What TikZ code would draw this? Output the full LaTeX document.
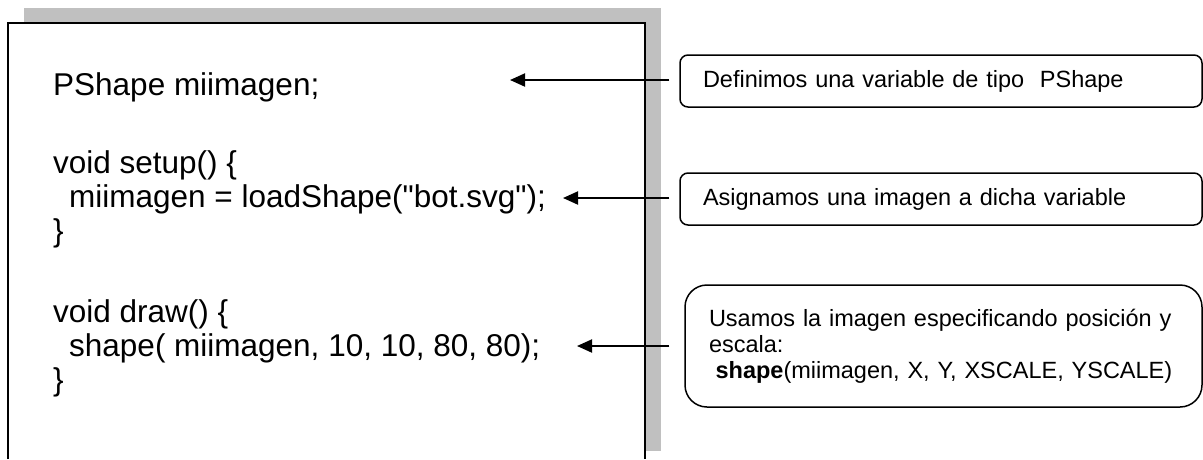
\documentclass[tikz,border=0pt]{standalone}
\usepackage{fontspec}
\setmainfont{Liberation Sans}[Ligatures=TeXOff]
\usetikzlibrary{arrows.meta,calc}
\definecolor{shadowgray}{RGB}{192,192,192}
\tikzset{
  codeline/.style={anchor=base west, inner sep=0pt, font=\fontsize{31.5}{34}\selectfont},
  callout/.style={draw, line width=1.5pt, rounded corners=8pt, align=left, inner xsep=23pt, inner ysep=0pt,
     font=\fontsize{23.5}{26}\selectfont, text width=476pt, minimum height=52pt},
  pointer/.style={line width=2pt, -{Triangle[length=15pt,width=13pt]}}
}
\begin{document}
\begin{tikzpicture}[x=1pt,y=-1pt]
\useasboundingbox (0,0) rectangle (1203,459);
% shadow and code box
\fill[shadowgray] (24,8) rectangle (661,451);
\fill[white] (8,23) rectangle (645,459);
\draw[line width=2pt] (8,459) -- (8,23) -- (645,23) -- (645,459);
% code
\node[codeline] (c1) at (53,95) {PShape miimagen;};
\node[codeline] (c2) at (53,173) {void setup() \{};
\node[codeline] (c3) at (69,207) {miimagen = loadShape("bot.svg");};
\node[codeline] (c4) at (53,241) {\}};
\node[codeline] (c5) at (53,322) {void draw() \{};
\node[codeline] (c6) at (69,356) {shape( miimagen, 10, 10, 80, 80);};
\node[codeline] (c7) at (53,390) {\}};
% callouts
\node[callout] (b1) at (941,81) {Definimos una variable de tipo \ PShape};
\node[callout] (b2) at (941,199) {Asignamos una imagen a dicha variable};
\node[callout, rounded corners=22pt, text width=469pt, minimum height=122pt, inner xsep=24pt] (b3) at (943.5,346)
  {Usamos la imagen especificando posición y\\escala:\\\hspace*{0.28em}\textbf{shape}(miimagen, X, Y, XSCALE, YSCALE)};
% arrow tips
\coordinate (t1) at (510,80);
\coordinate (t2) at (563,198);
\coordinate (t3) at (577,346);
\draw[pointer] ([xshift=-10pt]b1.west |- t1) -- (t1);
\draw[pointer] ([xshift=-10pt]b2.west |- t2) -- (t2);
\draw[pointer] ([xshift=-15pt]b3.west |- t3) -- (t3);
\end{tikzpicture}
\end{document}
